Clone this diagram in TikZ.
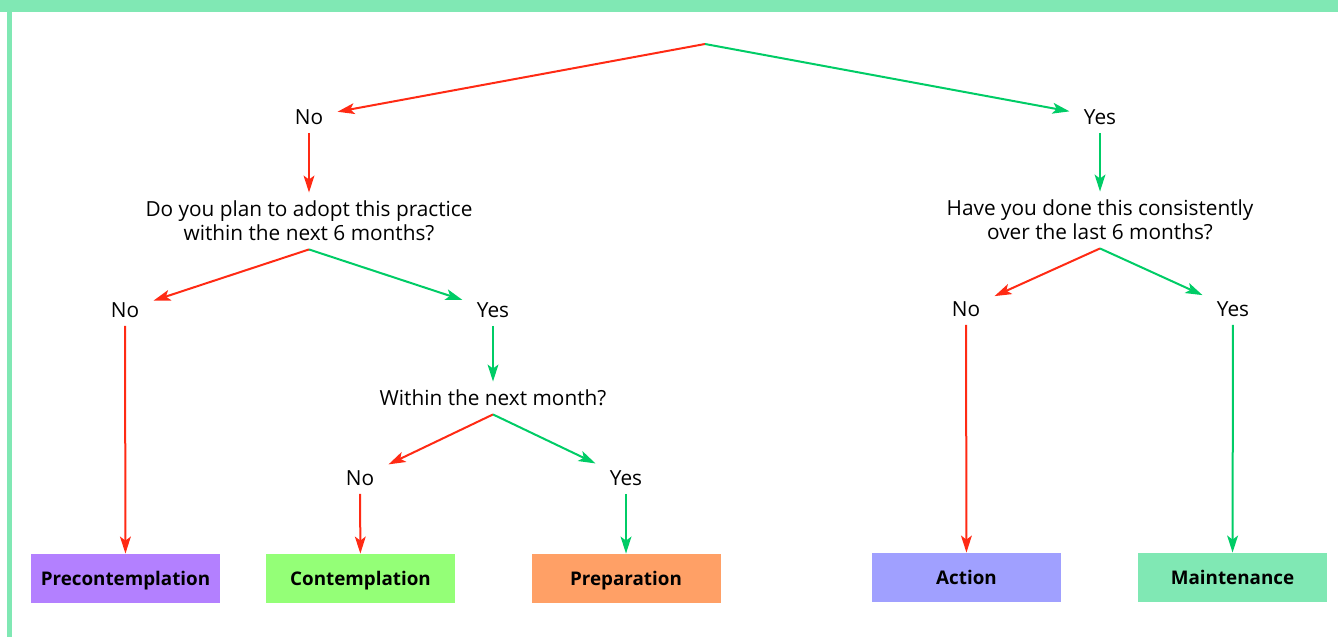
\documentclass[tikz,border=0pt]{standalone}
\usepackage{fontspec}
\setmainfont{Open Sans}
\usepackage{tikz}
\usetikzlibrary{arrows.meta,positioning}

\definecolor{framegreen}{HTML}{80E8B4}
\definecolor{noline}{HTML}{FF2A14}
\definecolor{yesline}{HTML}{00CC66}
\definecolor{preconfill}{HTML}{B380FF}
\definecolor{contfill}{HTML}{94FF77}
\definecolor{prepfill}{HTML}{FFA066}
\definecolor{actfill}{HTML}{A0A0FF}
\definecolor{maintfill}{HTML}{80E8B4}

\begin{document}
\begin{tikzpicture}[
    x=0.5pt, y=-0.5pt,
    >={Stealth[length=8.5pt,width=5.4pt,inset=2pt]},
    answer/.style={
        font=\fontsize{10.4}{12}\selectfont,
        inner xsep=7pt,
        inner ysep=4pt
    },
    question/.style={
        font=\fontsize{10.4}{12}\selectfont,
        align=center,
        inner xsep=2pt,
        inner ysep=4pt
    },
    stage/.style={
        rectangle,
        fill=#1,
        minimum width=94.5pt,
        minimum height=24.5pt,
        font=\fontsize{9.4}{11}\selectfont\bfseries,
        text height=6.8pt,
        text depth=0pt,
        inner sep=0pt
    },
    nolink/.style={->,line width=1pt,noline},
    yeslink/.style={->,line width=1pt,yesline}
]

% Frame
\useasboundingbox (0,0) rectangle (1338,637);
\fill[framegreen] (0,0) rectangle (1338,12);
\fill[framegreen] (7,12) rectangle (12,637);

% Start point
\coordinate (top) at (705,44);

% Answers and questions
\node[answer] (no1) at (309,117) {No};
\node[answer] (yes1) at (1100,117) {Yes};
\node[question] (q1) at (309,221) {Do you plan to adopt this practice\\within the next 6 months?};
\node[question] (q3) at (1100,220) {Have you done this consistently\\over the last 6 months?};
\node[answer] (no2) at (125,310) {No};
\node[answer] (yes2) at (493,310) {Yes};
\node[question] (q2) at (493,398) {Within the next month?};
\node[answer] (no3) at (360,478) {No};
\node[answer] (yes3) at (626,478) {Yes};
\node[answer] (no4) at (966,309) {No};
\node[answer] (yes4) at (1233,309) {Yes};

% Stages
\node[stage=preconfill] (precon) at (125.5,578.5) {Precontemplation};
\node[stage=contfill] (contemp) at (360.5,578.5) {Contemplation};
\node[stage=prepfill] (prep) at (626,578.5) {Preparation};
\node[stage=actfill] (action) at (966.5,577.5) {Action};
\node[stage=maintfill] (maint) at (1232.5,577.5) {Maintenance};

% Arrows
\draw[nolink] (top) -- (no1);
\draw[yeslink] (top) -- (yes1);
\draw[nolink] (no1) -- (q1);
\draw[yeslink] (yes1) -- (q3);
\draw[nolink] (q1.south) -- (no2);
\draw[yeslink] (q1.south) -- (yes2);
\draw[nolink] (no2) -- (precon);
\draw[yeslink] (yes2) -- (q2);
\draw[nolink] (q2.south) -- (no3);
\draw[yeslink] (q2.south) -- (yes3);
\draw[nolink] (no3) -- (contemp);
\draw[yeslink] (yes3) -- (prep);
\draw[nolink] (q3.south) -- (no4);
\draw[yeslink] (q3.south) -- (yes4);
\draw[nolink] (no4) -- (action);
\draw[yeslink] (yes4) -- (maint);

\end{tikzpicture}
\end{document}
